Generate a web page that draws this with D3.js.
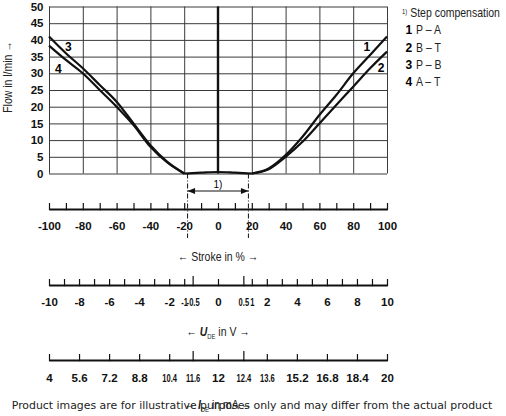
<!DOCTYPE html>
<meta charset="utf-8">
<style>
    body { margin: 0; background: #fff; }
    svg { display: block; font-family: "Liberation Sans", Arial, sans-serif; }
    .grid line { stroke: #3a3a3a; stroke-width: 1px; }
    .grid path { display: none; }
    .curve { fill: none; stroke: #111; stroke-width: 2.2px; }
    .axis path { stroke: #111; stroke-width: 2px; }
    .axis line { stroke: #111; stroke-width: 1.2px; }
    .axis text { font-size: 11.5px; font-weight: bold; fill: #111; }
</style>
<svg width="506" height="416"></svg>
<script src="https://d3js.org/d3.v7.min.js"></script>
<script>

    // stroke in %, flow in l/min
    var strokeLeft  = [-100, -90, -80, -70, -60, -50, -40, -30, -20];
    var flowCurve3  = [41, 36, 31.5, 26.5, 21.5, 15, 8.5, 3.5, 0];
    var flowCurve4  = [38.3, 34, 30, 25, 20, 14.5, 8, 3.3, 0];
    var strokeRight = [20, 30, 40, 50, 60, 70, 80, 90, 100];
    var flowCurve1  = [0, 1.5, 5.5, 11, 17.5, 23.5, 30, 35.5, 41];
    var flowCurve2  = [0, 1.3, 5, 9.5, 15, 20.5, 26, 31.5, 36.5];
    var strokeMid   = [-20, -10, 0, 10, 20];
    var flowMid     = [0, 0.25, 0.45, 0.25, 0];

    var curveLabels = [
        {name: "3", s: -88.5, f: 38},
        {name: "4", s: -94.5, f: 31.5},
        {name: "1", s: 88, f: 38},
        {name: "2", s: 96.5, f: 31.7}
    ];
    var legendItems = [["1", "P \u2013 A"], ["2", "B \u2013 T"], ["3", "P \u2013 B"], ["4", "A \u2013 T"]];

    var flowTicks    = d3.range(0, 51, 5);
    var strokeTicks  = d3.range(-100, 101, 10);
    var strokeLabels = [-100, -80, -60, -40, -20, 0, 20, 40, 60, 80, 100];
    var voltTicks    = [-10, -9, -8, -7, -6, -5, -4, -3, -2, -1, -0.5, 0, 0.5, 1, 2, 3, 4, 5, 6, 7, 8, 9, 10];
    var voltLabels   = [-10, -8, -6, -4, -2, -1, -0.5, 0, 0.5, 1, 2, 4, 6, 8, 10];
    var currentTicks = [4, 5.6, 7.2, 8.8, 10.4, 11.6, 12, 12.4, 13.6, 15.2, 16.8, 18.4, 20];
    var narrowLabels = [-1, -0.5, 0.5, 1, 10.4, 11.6, 12.4, 13.6];
    var tallTicks    = [-0.5, 0.5, 11.6, 12.4];
    var stepStroke   = 18;

    var svg = d3.select("svg");

    var x = d3.scaleLinear().domain([-100, 100]).range([49, 387]);
    var y = d3.scaleLinear().domain([0, 50]).range([173.5, 6.5]);

    // voltage axis is piecewise linear against stroke
    var xU = d3.scaleLinear()
        .domain([-10, -1, -0.5, 0, 0.5, 1, 10])
        .range([-100, -20, -15, 0, 15, 20, 100].map(x));

    // grid
    svg.append("g").attr("class", "grid")
        .attr("transform", "translate(0," + y(0) + ")")
        .call(d3.axisBottom(x).tickValues(d3.range(-100, 101, 20)).tickSize(-(y(0) - y(50))).tickFormat(""));
    svg.append("g").attr("class", "grid")
        .attr("transform", "translate(" + x(-100) + ",0)")
        .call(d3.axisLeft(y).tickValues(flowTicks).tickSize(-(x(100) - x(-100))).tickFormat(""));

    // flow labels
    svg.append("g").attr("class", "axis")
        .attr("transform", "translate(" + x(-100) + ",0)")
        .call(d3.axisLeft(y).tickValues(flowTicks).tickSize(0).tickPadding(5.5))
        .call(function (g) { g.select(".domain").remove(); });

    // centre line
    svg.append("line")
        .attr("x1", x(0)).attr("x2", x(0))
        .attr("y1", y(50)).attr("y2", y(0))
        .attr("stroke", "#111").attr("stroke-width", 2.4);

    var line = d3.line().curve(d3.curveMonotoneX)
        .x(function (d) { return x(d[0]); })
        .y(function (d) { return y(d[1]); });

    [[strokeLeft, flowCurve3], [strokeLeft, flowCurve4], [strokeRight, flowCurve1], [strokeRight, flowCurve2], [strokeMid, flowMid]]
        .forEach(function (c) {
            svg.append("path").attr("class", "curve")
                .attr("d", line(d3.zip(c[0], c[1])));
        });

    svg.selectAll(".clabel").data(curveLabels).enter().append("text")
        .attr("class", "clabel")
        .attr("x", function (d) { return x(d.s); })
        .attr("y", function (d) { return y(d.f); })
        .attr("dy", "0.36em")
        .attr("text-anchor", "middle")
        .attr("font-size", 12).attr("font-weight", "bold")
        .text(function (d) { return d.name; });

    // step compensation markers
    svg.selectAll(".step").data([-stepStroke, stepStroke]).enter().append("line")
        .attr("class", "step")
        .attr("x1", x).attr("x2", x)
        .attr("y1", y(0)).attr("y2", 238)
        .attr("stroke", "#111").attr("stroke-width", 1)
        .attr("stroke-dasharray", "5,2,1,2");

    svg.append("defs").selectAll("marker").data(["s", "e"]).enter().append("marker")
        .attr("id", function (d) { return "arr-" + d; })
        .attr("viewBox", "0 -4 10 8")
        .attr("refX", 10).attr("refY", 0)
        .attr("markerWidth", 9).attr("markerHeight", 6)
        .attr("markerUnits", "userSpaceOnUse")
        .attr("orient", "auto-start-reverse")
        .append("path").attr("d", "M0,-4L10,0L0,4Z").attr("fill", "#111");

    svg.append("line")
        .attr("x1", x(-stepStroke)).attr("x2", x(stepStroke))
        .attr("y1", 191).attr("y2", 191)
        .attr("stroke", "#111").attr("stroke-width", 1)
        .attr("marker-start", "url(#arr-s)")
        .attr("marker-end", "url(#arr-e)");
    svg.append("text")
        .attr("x", x(0)).attr("y", 188)
        .attr("text-anchor", "middle").attr("font-size", 10)
        .text("1)");

    function narrow(sel) {
        sel.selectAll(".tick text")
            .attr("transform", function (d) {
                return narrowLabels.indexOf(d) >= 0 ? "scale(0.66,1)" : null;
            });
    }
    function tall(sel) {
        sel.selectAll(".tick line")
            .attr("y2", function (d) { return tallTicks.indexOf(d) >= 0 ? -9 : -6; })
            .attr("y1", 1.2);
    }

    // stroke axis
    svg.append("g").attr("class", "axis")
        .attr("transform", "translate(0,209)")
        .call(d3.axisBottom(x).tickValues(strokeTicks).tickSizeInner(-6).tickSizeOuter(0).tickPadding(13)
            .tickFormat(function (d) { return strokeLabels.indexOf(d) >= 0 ? d : ""; }))
        .call(tall);

    // voltage axis
    svg.append("g").attr("class", "axis")
        .attr("transform", "translate(0,285)")
        .call(d3.axisBottom(xU).tickValues(voltTicks).tickSizeInner(-6).tickSizeOuter(0).tickPadding(12.5)
            .tickFormat(function (d) { return voltLabels.indexOf(d) >= 0 ? d : ""; }))
        .call(tall).call(narrow);

    // current axis
    svg.append("g").attr("class", "axis")
        .attr("transform", "translate(0,360)")
        .call(d3.axisBottom(xU).tickValues(currentTicks.map(function (i) { return (i - 12) / 0.8; }))
            .tickSizeInner(-6).tickSizeOuter(0).tickPadding(14)
            .tickFormat(function (d) { return d3.format(".1~f")(12 + d * 0.8); }))
        .call(function (g) {
            g.selectAll(".tick").each(function (d) {
                var i = +(12 + d * 0.8).toFixed(1);
                d3.select(this).select("line").attr("y1", 1.2)
                    .attr("y2", tallTicks.indexOf(i) >= 0 ? -9 : -6);
                d3.select(this).select("text")
                    .attr("transform", narrowLabels.indexOf(i) >= 0 ? "scale(0.66,1)" : null);
            });
        });

    // axis titles
    function title(tx, ty, parts, rot) {
        var t = svg.append("text")
            .attr("transform", "translate(" + tx + "," + ty + ")" + (rot ? " rotate(-90)" : "") + " scale(0.84,1)")
            .attr("text-anchor", "middle")
            .attr("font-size", 12.5).attr("fill", "#222");
        parts.forEach(function (p) {
            var s = t.append("tspan").text(p.t);
            if (p.b) s.attr("font-weight", "bold").attr("font-style", "italic");
            if (p.sub) s.attr("font-size", 7).attr("dy", 2.5);
            if (p.up) s.attr("dy", -2.5);
        });
        return t;
    }
    title(12, 77, [{t: "Flow in l/min \u2192"}], true);
    title(218, 261, [{t: "\u2190 Stroke in % \u2192"}]);
    title(218, 336, [{t: "\u2190 "}, {t: "U", b: true}, {t: "DE", sub: true}, {t: " in V \u2192", up: true}]);
    title(218, 409, [{t: "\u2190 "}, {t: "I", b: true}, {t: "DE", sub: true}, {t: " in mA \u2192", up: true}]);

    // legend
    var legend = svg.append("g").attr("transform", "translate(402,17)");
    legend.append("text")
        .attr("transform", "scale(0.84,1)")
        .attr("font-size", 12.5).attr("fill", "#222")
        .call(function (t) {
            t.append("tspan").attr("font-size", 7).attr("dy", -3).text("1)");
            t.append("tspan").attr("dy", 3).text(" Step compensation");
        });
    var rows = legend.selectAll(".row").data(legendItems).enter().append("g")
        .attr("transform", function (d, i) { return "translate(0," + (17.3 * (i + 1)) + ")"; });
    rows.append("text").attr("x", 3.5)
        .attr("font-size", 12).attr("font-weight", "bold")
        .text(function (d) { return d[0]; });
    rows.append("text")
        .attr("transform", "translate(14,0) scale(0.84,1)")
        .attr("font-size", 12.5).attr("fill", "#222")
        .text(function (d) { return d[1]; });

    svg.append("text")
        .attr("x", 252).attr("y", 409)
        .attr("text-anchor", "middle")
        .attr("font-family", "DejaVu Sans").attr("font-size", 10.9).attr("fill", "#222")
        .text("Product images are for illustrative purposes only and may differ from the actual product");

</script>
